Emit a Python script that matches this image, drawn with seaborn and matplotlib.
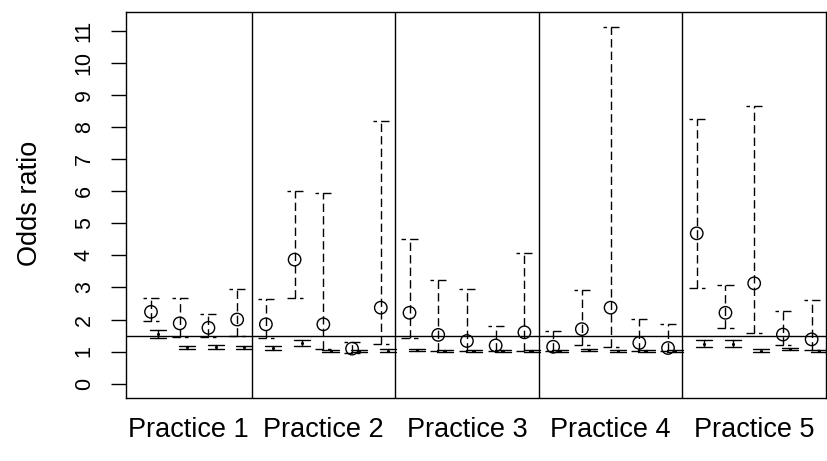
import matplotlib
matplotlib.use("Agg")
import matplotlib.pyplot as plt
import numpy as np
import pandas as pd
import seaborn as sns

# Odds ratios with 95% intervals for five practices, two models each
practice_names = ["Practice 1", "Practice 2", "Practice 3", "Practice 4", "Practice 5"]
practice = [1, 1, 1, 1,
            2, 2, 2, 2, 2,
            3, 3, 3, 3, 3,
            4, 4, 4, 4, 4,
            5, 5, 5, 5, 5]
slot = [2, 3, 4, 5] + [1, 2, 3, 4, 5] * 4

# model A (dashed intervals, open circles)
or_a = [2.24, 1.88, 1.74, 2.00,
        1.85, 3.87, 1.85, 1.09, 2.37,
        2.21, 1.52, 1.33, 1.19, 1.60,
        1.15, 1.70, 2.37, 1.27, 1.11,
        4.69, 2.21, 3.13, 1.53, 1.38]
lo_a = [1.95, 1.44, 1.44, 1.49,
        1.43, 2.66, 1.08, 0.97, 1.25,
        1.43, 1.01, 1.01, 1.01, 1.01,
        1.01, 1.20, 1.15, 1.01, 1.01,
        2.97, 1.74, 1.58, 1.20, 1.04]
hi_a = [2.68, 2.68, 2.17, 2.95,
        2.64, 6.02, 5.96, 1.30, 8.20,
        4.51, 3.23, 2.96, 1.81, 4.09,
        1.65, 2.92, 11.13, 2.03, 1.85,
        8.25, 3.08, 8.66, 2.26, 2.60]

# model B (solid intervals, small dots)
or_b = [1.55, 1.13, 1.15, 1.13,
        1.11, 1.27, 1.02, 1.02, 1.03,
        1.05, 1.02, 1.02, 1.02, 1.02,
        1.02, 1.05, 1.03, 1.02, 1.02,
        1.25, 1.25, 1.03, 1.07, 1.02]
lo_b = [1.43, 1.07, 1.09, 1.07,
        1.05, 1.18, 0.99, 0.99, 1.00,
        1.01, 1.00, 1.00, 1.00, 1.00,
        1.00, 1.01, 1.00, 1.00, 1.00,
        1.15, 1.15, 0.99, 1.04, 1.00]
hi_b = [1.68, 1.18, 1.22, 1.18,
        1.18, 1.35, 1.05, 1.04, 1.07,
        1.09, 1.04, 1.04, 1.04, 1.04,
        1.04, 1.09, 1.05, 1.04, 1.04,
        1.35, 1.35, 1.07, 1.11, 1.04]

reference_or = 1.5
y_ticks = list(range(0, 12))

sns.set_theme(style="white")
plt.rcParams["font.family"] = ["Liberation Sans", "DejaVu Sans"]
plt.rcParams["lines.scale_dashes"] = False
plt.rcParams["text.color"] = "black"
plt.rcParams["xtick.color"] = "black"
plt.rcParams["ytick.color"] = "black"
plt.rcParams["axes.labelcolor"] = "black"

df = pd.DataFrame({
    "practice": practice, "slot": slot,
    "or_a": or_a, "lo_a": lo_a, "hi_a": hi_a,
    "or_b": or_b, "lo_b": lo_b, "hi_b": hi_b,
})
df["pos"] = 5 * (df["practice"] - 1) + (df["slot"] - 1)
df["pos_b"] = df["pos"] + 0.25

fig = plt.figure(figsize=(8.27, 4.61), dpi=100)
ax = fig.add_axes([126 / 827, 63 / 461, 700 / 827, 386 / 461])

lw = 1.0
dash = (0, (6.0, 3.0))
cap = 0.28

# dashed intervals for model A: bottom cap drawn left-to-right, top cap right-to-left
for _, r in df.iterrows():
    x = r["pos"]
    ax.plot([x, x], [r["lo_a"], r["hi_a"]], color="black", lw=lw, ls=dash, zorder=2)
    ax.plot([x - cap, x + cap], [r["lo_a"], r["lo_a"]], color="black", lw=lw, ls=dash, zorder=2)
    ax.plot([x + cap, x - cap], [r["hi_a"], r["hi_a"]], color="black", lw=lw, ls=dash, zorder=2)

# solid intervals for model B
for _, r in df.iterrows():
    x = r["pos_b"]
    ax.plot([x, x], [r["lo_b"], r["hi_b"]], color="black", lw=lw, zorder=2)
    for yv in (r["lo_b"], r["hi_b"]):
        ax.plot([x - cap, x + cap], [yv, yv], color="black", lw=lw, zorder=2)

sns.scatterplot(data=df, x="pos", y="or_a", marker="o", s=80,
                facecolors="none", edgecolors="black", linewidth=lw,
                legend=False, ax=ax, zorder=3)
sns.scatterplot(data=df, x="pos_b", y="or_b", marker="o", s=5,
                color="black", linewidth=0, legend=False, ax=ax, zorder=3)

xlim = (0.13, 24.5)
ax.set_xlim(*xlim)
ax.set_ylim(-0.45, 11.6)

# practice separators and reference line
bounds = [5 * p - 0.5 for p in range(1, 5)]
for b in bounds:
    ax.axvline(b, color="black", lw=lw, zorder=1)
ax.axhline(reference_or, color="black", lw=lw, zorder=1)

edges = [xlim[0]] + bounds + [xlim[1]]
centers = [(edges[i] + edges[i + 1]) / 2 for i in range(5)]
ax.set_xticks(centers)
ax.set_xticklabels(practice_names, fontsize=19.5)
ax.tick_params(axis="x", length=0, pad=14)

ax.set_yticks(y_ticks)
ax.set_yticklabels([str(t) for t in y_ticks], fontsize=15.5, rotation=90, va="center")
ax.tick_params(axis="y", length=10.5, width=lw, direction="out", pad=12, left=True)

ax.set_xlabel("")
ax.set_ylabel("")
for s in ax.spines.values():
    s.set_color("black")
    s.set_linewidth(lw)

fig.text(30 / 827, 1 - 203 / 461, "Odds ratio", rotation=90, ha="center", va="center",
         fontsize=19.5)

fig.savefig("out.png", dpi=100)
